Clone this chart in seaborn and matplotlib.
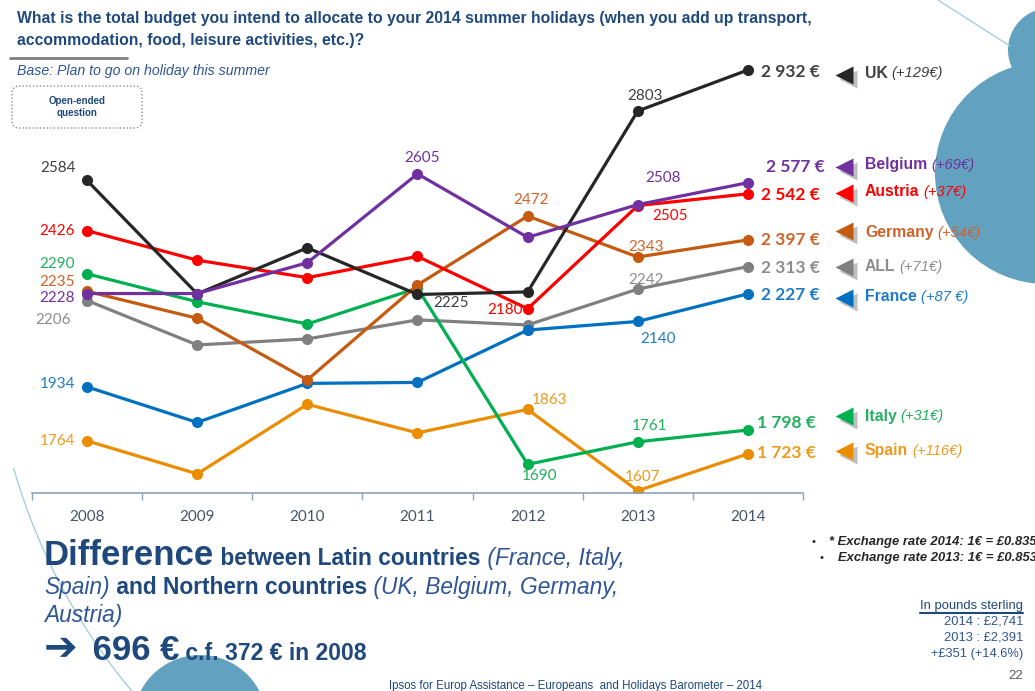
import pandas as pd
import matplotlib
matplotlib.use('Agg')
import matplotlib.pyplot as plt
import seaborn as sns
from matplotlib.patches import Circle, Arc, FancyBboxPatch
from matplotlib.transforms import offset_copy

# survey values (average budget in euros)
years = [2008, 2009, 2010, 2011, 2012, 2013, 2014]
uk = [2584, 2227, 2372, 2225, 2233, 2803, 2932]
belgium = [2228, 2228, 2325, 2605, 2405, 2508, 2577]
austria = [2426, 2333, 2278, 2345, 2180, 2505, 2542]
germany = [2235, 2150, 1956, 2255, 2472, 2343, 2397]
all_countries = [2206, 2066, 2085, 2145, 2129, 2242, 2313]
france = [1934, 1822, 1945, 1948, 2113, 2140, 2227]
italy = [2290, 2202, 2132, 2245, 1690, 1761, 1798]
spain = [1764, 1660, 1879, 1789, 1863, 1607, 1723]

series = {'ALL': all_countries, 'Spain': spain, 'France': france, 'Italy': italy,
          'Germany': germany, 'Austria': austria, 'UK': uk, 'Belgium': belgium}

value_labels = {'UK': '2 932 €', 'Belgium': '2 577 €', 'Austria': '2 542 €', 'Germany': '2 397 €',
                'ALL': '2 313 €', 'France': '2 227 €', 'Italy': '1 798 €', 'Spain': '1 723 €'}
change_labels = {'UK': '(+129€)', 'Belgium': '(+69€)', 'Austria': '(+37€)', 'Germany': '(+54€)',
                 'ALL': '(+71€)', 'France': '(+87 €)', 'Italy': '(+31€)', 'Spain': '(+116€)'}

colors = {'UK': '#262626', 'Belgium': '#7030A0', 'Austria': '#FF0000', 'Germany': '#C55A11',
          'ALL': '#808080', 'France': '#0070C0', 'Italy': '#00B050', 'Spain': '#EB8D00'}
text_colors = {'UK': '#404040', 'Belgium': '#7030A0', 'Austria': '#FF0000', 'Germany': '#D0622A',
               'ALL': '#8C8C8C', 'France': '#1F7BC7', 'Italy': '#22B060', 'Spain': '#EE9A1E'}

# which points carry a value label, and where (pixel offset, y down)
point_labels = {
    'UK': {0: (-29, -12), 3: (34, 9), 5: (7, -15)},
    'Belgium': {0: (-30, 4), 3: (5, -16), 5: (25, -27)},
    'Austria': {0: (-30, 0), 4: (-23, 1), 5: (32, 10)},
    'Germany': {0: (-30, -9), 4: (3, -16), 5: (8, -10)},
    'ALL': {0: (-34, 19), 5: (8, -9)},
    'France': {0: (-30, -3), 5: (20, 18)},
    'Spain': {0: (-30, 0), 4: (22, -9), 5: (5, -14)},
    'Italy': {0: (-30, -10), 4: (12, 12), 5: (12, -16)},
}
# right hand side: (value dx, value dy, arrow dy, name dy)
right_pos = {'UK': (13, 2, 5, 3), 'Belgium': (18, -16, -16, -18), 'Austria': (13, 1, -1, -2),
             'Germany': (13, 0, -9, -7), 'ALL': (13, 1, 0, 0), 'France': (13, 1, 4, 3),
             'Italy': (9, -7, -14, -14), 'Spain': (9, -1, -3, -3)}

sns.set_style('white')
plt.rcParams['font.family'] = ['Liberation Sans', 'DejaVu Sans']
NAVY = '#1F497D'
MID_BLUE = '#2F5597'
BLUE_FILL = '#62A2C0'

fig = plt.figure(figsize=(10.35, 6.91), dpi=100)
bg = fig.add_axes([0, 0, 1, 1])
bg.set_xlim(0, 1035)
bg.set_ylim(691, 0)
bg.axis('off')

# decorative shapes
bg.add_patch(Circle((1050, 50), 42, color=BLUE_FILL, lw=0))
bg.add_patch(Circle((1046, 173), 111, color=BLUE_FILL, lw=0))
bg.add_patch(Circle((200, 722), 67, color=BLUE_FILL, lw=0))
bg.plot([938, 1010], [0, 46], color='#A8CCE0', lw=1)
bg.add_patch(Arc((600, 300), 1220, 1220, theta1=136, theta2=164, color='#A8CCE0', lw=1))

# header
bg.text(17, 18, 'What is the total budget you intend to allocate to your 2014 summer holidays (when you add up transport,',
        fontsize=11.3, fontweight='bold', color=NAVY, va='center')
bg.text(17, 40, 'accommodation, food, leisure activities, etc.)?',
        fontsize=11.3, fontweight='bold', color=NAVY, va='center')
bg.plot([10, 127], [58, 58], color='#808080', lw=2)
bg.text(17, 71, 'Base: Plan to go on holiday this summer', fontsize=10.2, style='italic',
        color=MID_BLUE, va='center')
bg.add_patch(FancyBboxPatch((12, 86), 130, 42, boxstyle='round,pad=0,rounding_size=7',
                            fill=False, ec='#8C8C8C', ls=(0, (1, 1.5)), lw=1))
bg.text(77, 107, 'Open-ended\nquestion', fontsize=7, fontweight='bold', color=NAVY,
        ha='center', va='center', linespacing=1.3)

# chart
ax = fig.add_axes([32 / 1035, (691 - 493) / 691, (803 - 32) / 1035, (493 - 60) / 691])
ax.set_zorder(2)
ax.patch.set_alpha(0)

rows = []
for name, vals in series.items():
    for i, v in enumerate(vals):
        rows.append({'pos': i, 'value': v, 'country': name})
df = pd.DataFrame(rows)

sns.lineplot(data=df, x='pos', y='value', hue='country', hue_order=list(series.keys()),
             palette=colors, marker='o', markersize=8, markeredgewidth=0, linewidth=2.3,
             legend=False, ax=ax)

ax.set_xlim(-0.5, 6.5)
ax.set_ylim(2932 - 423 / 0.3175, 2932 + 10 / 0.3175)
ax.set_xticks(range(len(years)))
ax.set_xticklabels([str(y) for y in years])
ax.set_xticks([i - 0.5 for i in range(len(years) + 1)], minor=True)
ax.tick_params(axis='x', which='major', length=0, pad=12, labelsize=11, labelcolor='#44546A')
ax.tick_params(axis='x', which='minor', bottom=True, length=5, width=1, color='#8FA1BB',
               direction='out')
ax.set_yticks([])
ax.set_xlabel('')
ax.set_ylabel('')
for s in ['top', 'right', 'left']:
    ax.spines[s].set_visible(False)
ax.spines['bottom'].set_color('#8FA1BB')
ax.spines['bottom'].set_linewidth(1.2)
for lab in ax.get_xticklabels():
    lab.set_fontfamily('Lato')

# value labels on the points
for name, offs in point_labels.items():
    vals = series[name]
    for i, (dx, dy) in offs.items():
        ax.annotate(str(vals[i]), (i, vals[i]), xytext=(dx, -dy), textcoords='offset pixels',
                    ha='center', va='center', fontsize=11, family='Lato',
                    color=text_colors[name], annotation_clip=False)

# right hand side labels with the little pointers
last = len(years) - 1
for name, (vdx, vdy, ady, ndy) in right_pos.items():
    v = series[name][last]
    ax.annotate(value_labels[name], (last, v), xytext=(vdx, -vdy), textcoords='offset pixels',
                ha='left', va='center', fontsize=12.5, fontweight='bold', family='Lato',
                color=text_colors[name], annotation_clip=False)
    shadow = offset_copy(ax.transData, fig=fig, x=100, y=-ady - 4, units='dots')
    ax.plot([last], [v], marker='<', ms=13, color='#BFBFBF', mec='none',
            transform=shadow, clip_on=False)
    pointer = offset_copy(ax.transData, fig=fig, x=96, y=-ady, units='dots')
    ax.plot([last], [v], marker='<', ms=13, color=colors[name], mec='none',
            transform=pointer, clip_on=False)
    nm = ax.annotate(name, (last, v), xytext=(117, -ndy), textcoords='offset pixels',
                     ha='left', va='center', fontsize=11.3, fontweight='bold',
                     color=text_colors[name], annotation_clip=False)
    ax.annotate(change_labels[name], (1, 0.5), xycoords=nm, xytext=(4, 0),
                textcoords='offset pixels', ha='left', va='center', fontsize=10.6,
                style='italic', color=text_colors[name], annotation_clip=False)

renderer = fig.canvas.get_renderer()


def chain(parts, x, y):
    """writes text pieces one after the other on a shared baseline"""
    for text, kw, gap in parts:
        t = bg.text(x, y, text, va='baseline', ha='left', **kw)
        x += t.get_window_extent(renderer=renderer).width + gap


BOLD = dict(fontweight='bold', color=NAVY)
ITAL = dict(style='italic', color=MID_BLUE)
chain([('Difference', dict(fontsize=25, **BOLD), 0),
       (' between Latin countries', dict(fontsize=16.4, **BOLD), 0),
       (' (France, Italy,', dict(fontsize=16.4, **ITAL), 0)], 44, 565)
chain([('Spain)', dict(fontsize=16.4, **ITAL), 0),
       (' and Northern countries', dict(fontsize=16.4, **BOLD), 0),
       (' (UK, Belgium, Germany,', dict(fontsize=16.4, **ITAL), 0)], 44, 594)
chain([('Austria)', dict(fontsize=16.4, **ITAL), 0)], 44, 622)
chain([('➔', dict(fontsize=29, color=NAVY, family=['DejaVu Sans']), 5),
       (' 696 €', dict(fontsize=25, **BOLD), 0),
       (' c.f. 372 € in 2008', dict(fontsize=16.6, **BOLD), 0)], 44, 660)

# notes bottom right
bg.text(812, 542, '•', fontsize=8, color='#262626', va='center')
bg.text(829, 542, '* Exchange rate 2014: 1€ = £0.835', fontsize=9.4, fontweight='bold',
        style='italic', color='#262626', va='center')
bg.text(820, 558, '•', fontsize=8, color='#262626', va='center')
bg.text(838, 558, 'Exchange rate 2013: 1€ = £0.853', fontsize=9.4, fontweight='bold',
        style='italic', color='#262626', va='center')
bg.text(1023, 606, 'In pounds sterling', fontsize=9.4, color=NAVY, ha='right', va='center')
bg.plot([920, 1023], [613, 613], color=NAVY, lw=1.5)
bg.text(1023, 622, '2014 : £2,741', fontsize=9.3, color=MID_BLUE, ha='right', va='center')
bg.text(1023, 638, '2013 : £2,391', fontsize=9.3, color=MID_BLUE, ha='right', va='center')
bg.text(1023, 654, '+£351 (+14.6%)', fontsize=9.3, color=MID_BLUE, ha='right', va='center')
bg.text(1023, 676, '22', fontsize=9.5, color='#595959', ha='right', va='center')
bg.text(576, 686, 'Ipsos for Europ Assistance – Europeans  and Holidays Barometer – 2014',
        fontsize=8.3, color=NAVY, ha='center', va='center')

fig.savefig('out.png', dpi=100)
